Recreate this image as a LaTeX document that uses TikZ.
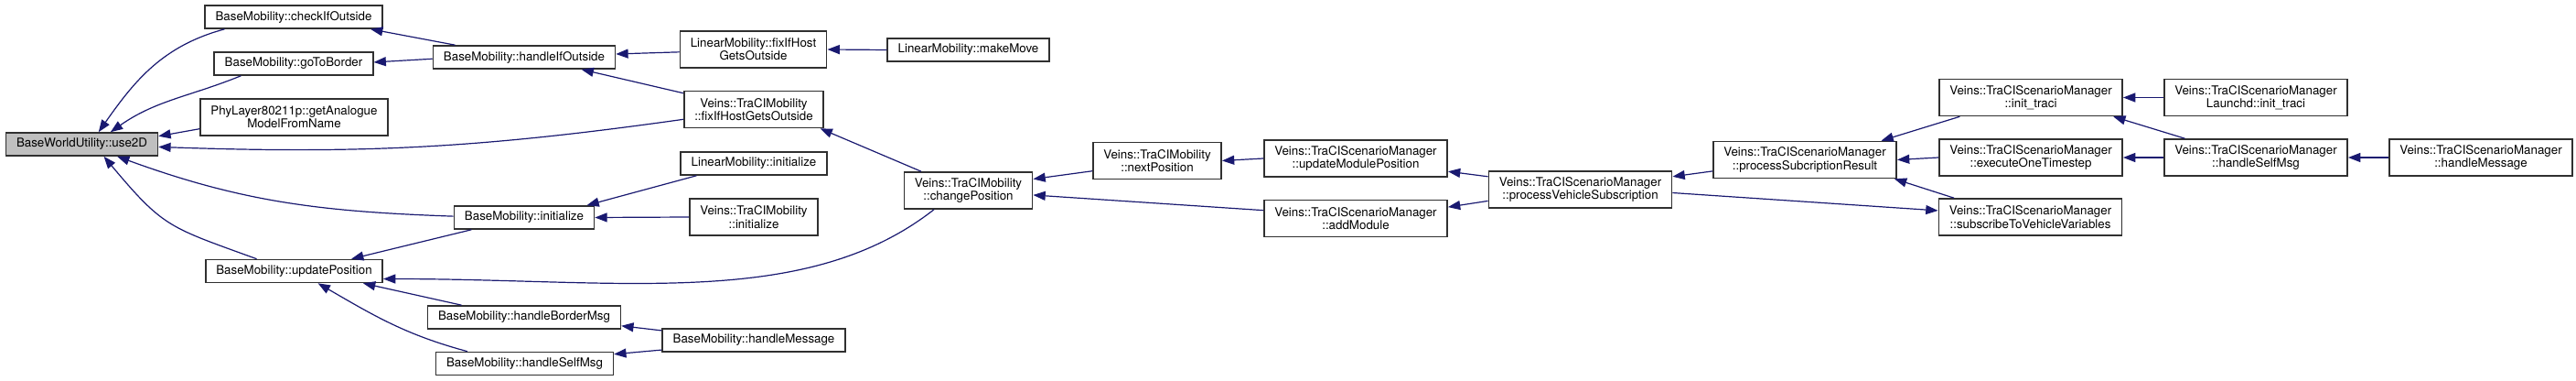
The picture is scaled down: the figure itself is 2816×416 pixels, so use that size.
\documentclass[tikz,border=0pt]{standalone}
\usepackage{fontspec}
\setmainfont[Ligatures=CommonOff]{TeX Gyre Heros}
\usetikzlibrary{arrows.meta}
\definecolor{callblue}{HTML}{191970}
\definecolor{boxline}{HTML}{303030}

\begin{document}
\begin{tikzpicture}[
  x=0.75pt, y=0.75pt,
  fn/.style={draw=boxline, line width=1.2pt, fill=white, align=center,
             font=\fontsize{10}{10.7}\selectfont, inner xsep=8.6pt,
             inner ysep=2pt, minimum height=18.75pt},
  fntwo/.style={fn, minimum height=30pt},
  root/.style={fn, fill=gray!50},
  call/.style={-{Triangle[length=10pt,width=7.5pt]}, draw=callblue,
               line width=0.9pt}
]
  \useasboundingbox (0,0) rectangle (2816,-416);

  % the function itself
  \node[root] (use2D) at (89.5,-157.5) {BaseWorldUtility::use2D};

  % direct callers
  \node[fn]    (checkIfOutside) at (321,-18.5)   {BaseMobility::checkIfOutside};
  \node[fn]    (goToBorder)     at (321,-69.5)   {BaseMobility::goToBorder};
  \node[fntwo] (getAnalogue)    at (321.5,-128)  {PhyLayer80211p::getAnalogue\\ModelFromName};
  \node[fn]    (updatePosition) at (321.5,-296)  {BaseMobility::updatePosition};

  \node[fn]    (handleIfOutside) at (573,-62.5)  {BaseMobility::handleIfOutside};
  \node[fn]    (baseInit)        at (573,-237.5) {BaseMobility::initialize};
  \node[fn]    (handleBorderMsg) at (573,-346.5) {BaseMobility::handleBorderMsg};
  \node[fn]    (handleSelfMsg)   at (573.5,-397) {BaseMobility::handleSelfMsg};

  \node[fntwo] (linFixIf)      at (823.5,-54)   {LinearMobility::fixIfHost\\GetsOutside};
  \node[fntwo] (traciFixIf)    at (824,-119.5)  {Veins::TraCIMobility\\::fixIfHostGetsOutside};
  \node[fn]    (linInit)       at (824,-178.5)  {LinearMobility::initialize};
  \node[fntwo] (traciInit)     at (824,-237)    {Veins::TraCIMobility\\::initialize};
  \node[fn]    (handleMessage) at (824,-371.5)  {BaseMobility::handleMessage};

  \node[fn]    (makeMove)       at (1058.5,-54.5) {LinearMobility::makeMove};
  \node[fntwo] (changePosition) at (1058.5,-208)  {Veins::TraCIMobility\\::changePosition};
  \node[fntwo] (nextPosition)   at (1265,-175.5)  {Veins::TraCIMobility\\::nextPosition};

  % scenario manager side
  \node[fntwo] (updateModulePos) at (1482,-173)   {Veins::TraCIScenarioManager\\::updateModulePosition};
  \node[fntwo] (addModule)       at (1482,-238.5) {Veins::TraCIScenarioManager\\::addModule};
  \node[fntwo] (procVehicleSub)  at (1727.5,-207) {Veins::TraCIScenarioManager\\::processVehicleSubscription};
  \node[fntwo] (procSubResult)   at (1973,-174.5) {Veins::TraCIScenarioManager\\::processSubcriptionResult};
  \node[fntwo] (initTraci)       at (2220,-106.5) {Veins::TraCIScenarioManager\\::init\_traci};
  \node[fntwo] (executeOne)      at (2220,-172)   {Veins::TraCIScenarioManager\\::executeOneTimestep};
  \node[fntwo] (subscribeVars)   at (2219.5,-237) {Veins::TraCIScenarioManager\\::subscribeToVehicleVariables};
  \node[fntwo] (launchdInit)     at (2466,-106.5) {Veins::TraCIScenarioManager\\Launchd::init\_traci};
  \node[fntwo] (mgrSelfMsg)      at (2466,-172)   {Veins::TraCIScenarioManager\\::handleSelfMsg};
  \node[fntwo] (mgrHandleMsg)    at (2712,-172)   {Veins::TraCIScenarioManager\\::handleMessage};

  % calls into use2D
  \draw[call] (checkIfOutside.190) to[out=195,in=55] (use2D.36);
  \draw[call] (goToBorder.193) to[out=202,in=35] (use2D.23);
  \draw[call] (getAnalogue.187.4) -- (use2D.6.5);
  \draw[call] (traciFixIf.188) to[out=188,in=-2] (use2D.-2.4);
  \draw[call] (baseInit.179) to[out=178,in=-20] (use2D.-19);
  \draw[call] (updatePosition.162) to[out=160,in=-50,looseness=1.3] (use2D.-29);

  % BaseMobility / LinearMobility / TraCIMobility
  \draw[call] (handleIfOutside.170) -- (checkIfOutside.-9.6);
  \draw[call] (handleIfOutside.181.5) -- (goToBorder.1.7);
  \draw[call] (linFixIf.182) -- (handleIfOutside.2);
  \draw[call] (traciFixIf.167) -- (handleIfOutside.-12);
  \draw[call] (makeMove.west) -- (linFixIf.east);
  \draw[call] (changePosition.158) -- (traciFixIf.-16);
  \draw[call] (linInit.192.6) -- (baseInit.11);
  \draw[call] (traciInit.west) -- (baseInit.east);
  \draw[call] (baseInit.193) -- (updatePosition.12);
  \draw[call] (changePosition.209)
    to[out=218,in=0,out looseness=0.75,in looseness=1.1] (updatePosition.-5);
  \draw[call] (handleBorderMsg.169) -- (updatePosition.-10);
  \draw[call] (handleSelfMsg.168) to[out=165,in=-30] (updatePosition.-27);
  \draw[call] (handleMessage.174.5) -- (handleBorderMsg.-5.8);
  \draw[call] (handleMessage.186) -- (handleSelfMsg.6);
  \draw[call] (nextPosition.189) -- (changePosition.10.4);
  \draw[call] (addModule.175.7) -- (changePosition.-4.9);

  % TraCIScenarioManager chain
  \draw[call] (updateModulePos.west) -- (nextPosition.east);
  \draw[call] (procVehicleSub.172) -- (updateModulePos.-8.6);
  \draw[call] (procVehicleSub.187.5) -- (addModule.7.8);
  \draw[call] (procSubResult.187.8) -- (procVehicleSub.8);
  \draw[call] (procVehicleSub.-2.9) -- (subscribeVars.176.5);
  \draw[call] (initTraci.195.7) -- (procSubResult.14);
  \draw[call] (executeOne.west) -- (procSubResult.east);
  \draw[call] (subscribeVars.166) -- (procSubResult.-12.8);
  \draw[call] (launchdInit.west) -- (initTraci.east);
  \draw[call] (mgrSelfMsg.165) -- (initTraci.-13.9);
  \draw[call] (mgrSelfMsg.west) -- (executeOne.east);
  \draw[call] (mgrHandleMsg.west) -- (mgrSelfMsg.east);
\end{tikzpicture}
\end{document}
